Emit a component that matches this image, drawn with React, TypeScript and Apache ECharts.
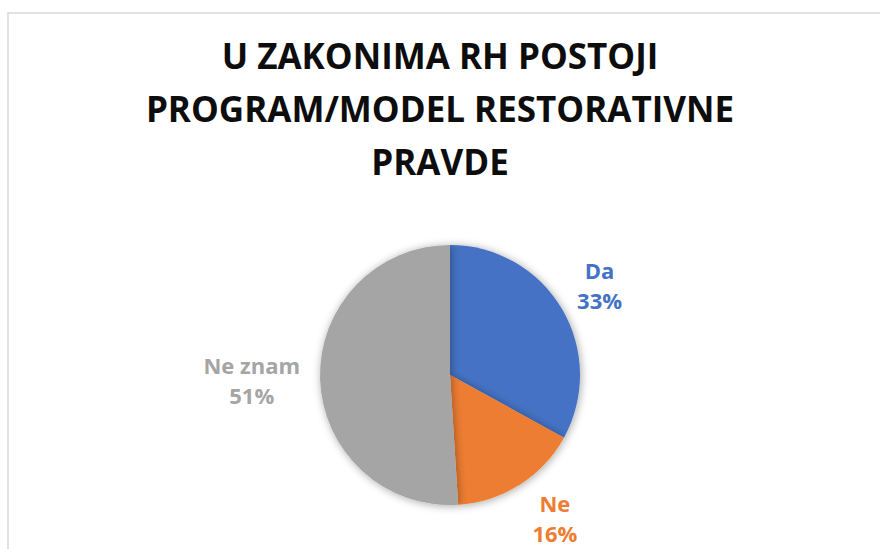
import React, { useEffect, useRef } from "react";
import * as echarts from "echarts";

const TITLE_LINES = ["U ZAKONIMA RH POSTOJI", "PROGRAM/MODEL RESTORATIVNE", "PRAVDE"];
const CATEGORIES = ["Da", "Ne", "Ne znam"];
const VALUES = [33, 16, 51];
const COLORS = ["#4472C4", "#ED7D31", "#A5A5A5"];
const LABEL_DY = [-14, 16, 0];
const LABEL_DX = [-2, 2, 0];

export default function App() {
  const ref = useRef<HTMLDivElement>(null);
  useEffect(() => {
    if (!ref.current) return;
    const chart = echarts.init(ref.current, null, { renderer: "svg" });
    const FONT = "'Open Sans', 'DejaVu Sans', sans-serif";
    chart.setOption({
      animation: false,
      backgroundColor: "#ffffff",
      title: {
        text: TITLE_LINES.join("\n"),
        left: "center",
        top: 29,
        padding: 0,
        textStyle: {
          fontFamily: FONT,
          fontWeight: "bold",
          fontSize: 35,
          lineHeight: 53,
          color: "#0d0d0d",
        },
      },
      graphic: [
        {
          type: "rect",
          shape: { x: 8, y: 13, width: 1000, height: 700 },
          style: { fill: "none", stroke: "#d9d9d9", lineWidth: 1.5 },
          silent: true,
        },
      ],
      series: [
        {
          type: "pie",
          center: [450, 375],
          radius: [0, 130],
          startAngle: 90,
          clockwise: true,
          avoidLabelOverlap: false,
          data: CATEGORIES.map((name, i) => ({
            name,
            value: VALUES[i],
            itemStyle: { color: COLORS[i] },
            label: { color: COLORS[i] },
          })),
          itemStyle: {
            borderWidth: 0,
            shadowBlur: 8,
            shadowColor: "rgba(0,0,0,0.35)",
            shadowOffsetX: 1,
            shadowOffsetY: 1,
          },
          label: {
            show: true,
            position: "outside",
            distanceToLabelLine: 0,
            fontFamily: FONT,
            fontWeight: "bold",
            fontSize: 22,
            lineHeight: 30,
            formatter: (p: any) => `${p.name}\n${Math.round(p.percent)}%`,
          },
          labelLine: { show: false, length: 20, length2: 0 },
          labelLayout: (params: any) => {
            const r = params.labelRect;
            const i = params.dataIndex;
            return {
              x: r.x + r.width / 2 + LABEL_DX[i],
              y: r.y + r.height / 2 + LABEL_DY[i],
              align: "center",
              verticalAlign: "middle",
            };
          },
        },
      ],
    });
    return () => chart.dispose();
  }, []);
  return (
    <div
      ref={ref}
      style={{ position: "fixed", left: 0, top: 0, width: 880, height: 549 }}
    />
  );
}
